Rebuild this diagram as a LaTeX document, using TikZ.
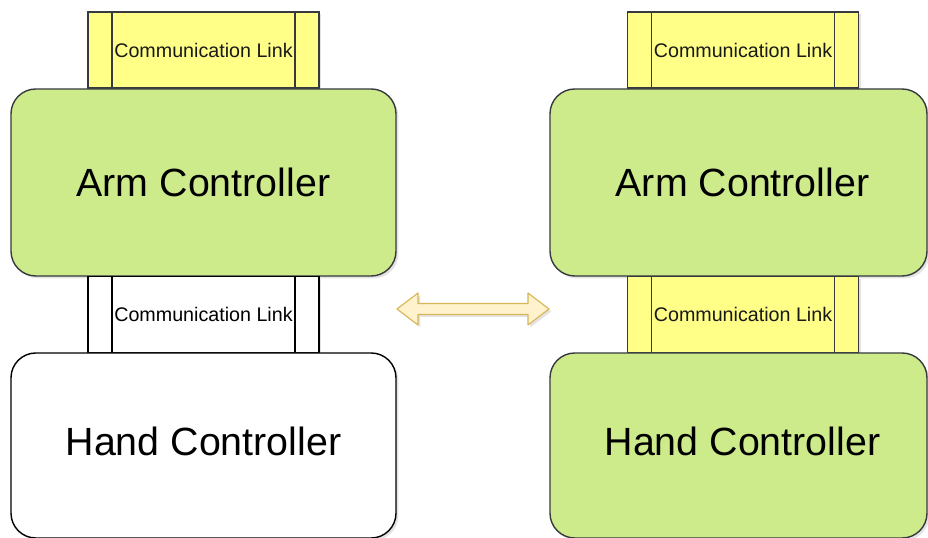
\documentclass[tikz,border=0pt]{standalone}
\usepackage{fontspec}
\setmainfont{Liberation Sans}
\usetikzlibrary{shadows}

\definecolor{ctrlgreen}{HTML}{CDEB8B}
\definecolor{linkyellow}{HTML}{FFFF88}
\definecolor{edgegray}{HTML}{36393D}
\definecolor{arrowfill}{HTML}{FFF2CC}
\definecolor{arrowedge}{HTML}{D6B656}

\begin{document}
\begin{tikzpicture}[
    softshadow/.style={drop shadow={opacity=0.22,shadow xshift=0.06cm,shadow yshift=-0.06cm}},
    controller/.style={draw,line width=1pt,rounded corners=0.62cm,inner sep=0pt,
        font=\fontsize{28}{32}\selectfont,softshadow},
    commlink/.style={draw,line width=1pt,inner sep=0pt,minimum width=5.775cm,minimum height=1.9cm,
        font=\fontsize{14}{16}\selectfont,softshadow,
        path picture={
            \draw[line width=1pt] ([xshift=0.6cm]path picture bounding box.north west) -- ([xshift=0.6cm]path picture bounding box.south west);
            \draw[line width=1pt] ([xshift=-0.6cm]path picture bounding box.north east) -- ([xshift=-0.6cm]path picture bounding box.south east);
        }},
    greenbox/.style={fill=ctrlgreen,draw=edgegray},
    yellowbox/.style={fill=linkyellow,draw=edgegray,text=black!90}
]
    \useasboundingbox (0,0) rectangle (23.2,13.45);

    %%%%%%%% Lato sinistro %%%%%%%%
    \node[commlink,yellowbox] (linkAL) at (5.0875,12.2) {Communication Link};
    \node[controller,greenbox,minimum width=9.625cm,minimum height=4.675cm] (armL) at (5.0875,8.8875) {Arm Controller};
    \node[commlink,fill=white,draw=black] (linkHL) at (5.0875,5.5875) {Communication Link};
    \node[controller,fill=white,draw=black,minimum width=9.625cm,minimum height=4.625cm,text depth=0.2cm] (handL) at (5.0875,2.3125) {Hand Controller};

    %%%%%%%% Lato destro %%%%%%%%
    \node[commlink,yellowbox] (linkAR) at (18.575,12.2) {Communication Link};
    \node[controller,greenbox,minimum width=9.425cm,minimum height=4.675cm] (armR) at (18.4625,8.8875) {\hspace*{0.2cm}Arm Controller};
    \node[commlink,yellowbox] (linkHR) at (18.575,5.5875) {Communication Link};
    \node[controller,greenbox,minimum width=9.425cm,minimum height=4.625cm,text depth=0.2cm] (handR) at (18.4625,2.3125) {\hspace*{0.2cm}Hand Controller};

    %%%%%%%% Freccia %%%%%%%%
    \coordinate (swap) at (11.825,5.725);
    \draw[draw=arrowedge,fill=arrowfill,line width=0.8pt,line join=round,softshadow]
        ([xshift=-1.9cm]swap)
        -- ++(0.525,0.4) -- ++(0,-0.2625) -- ++(2.75,0) -- ++(0,0.2625)
        -- ([xshift=1.9cm]swap)
        -- ++(-0.525,-0.4) -- ++(0,0.2625) -- ++(-2.75,0) -- ++(0,-0.2625)
        -- cycle;
\end{tikzpicture}
\end{document}
